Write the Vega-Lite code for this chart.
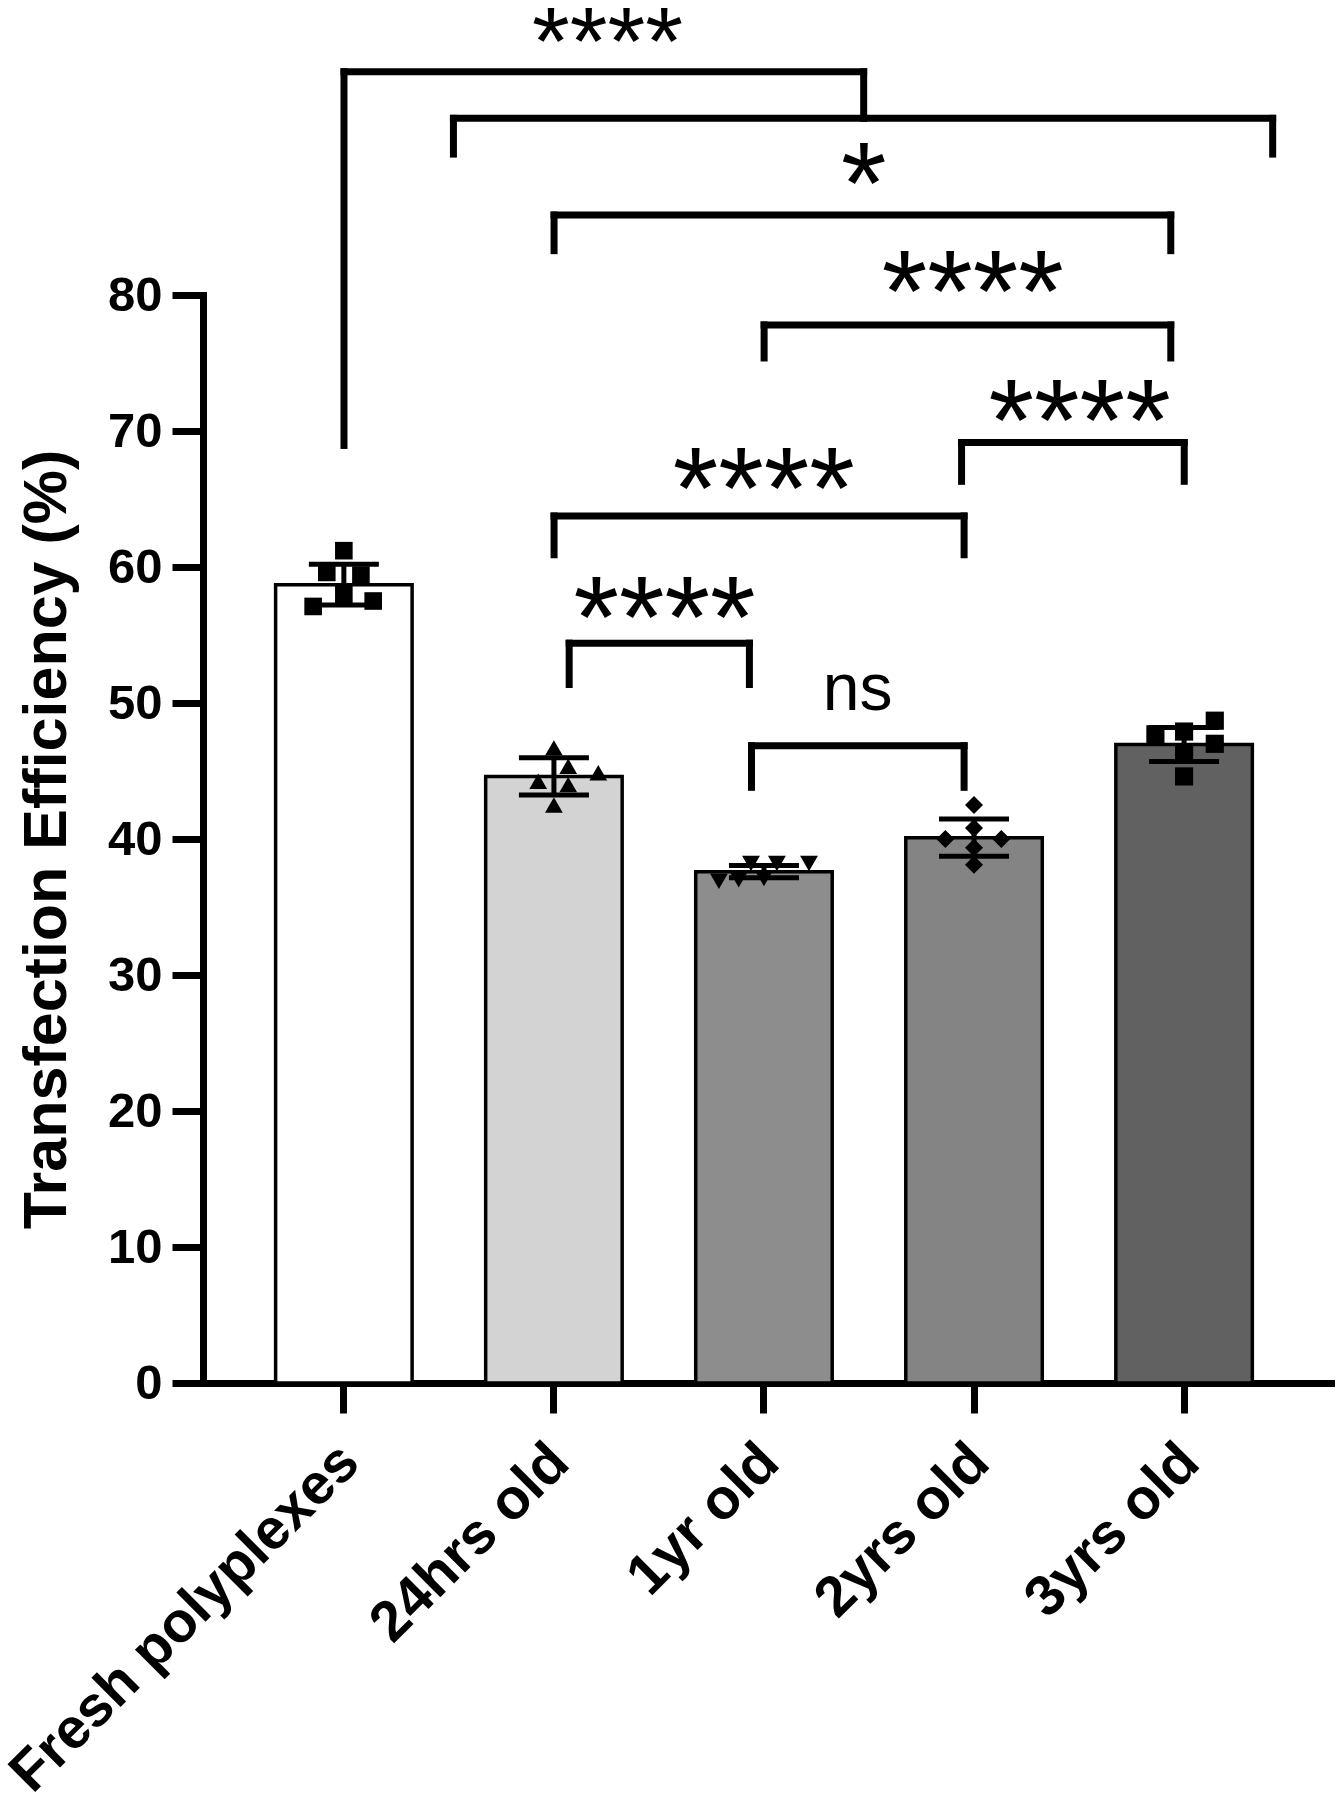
{
  "$schema": "https://vega.github.io/schema/vega-lite/v6.json",
  "autosize": {"type": "none"},
  "width": 1128,
  "height": 1088,
  "padding": {"left": 203, "top": 295, "right": 10, "bottom": 417},
  "background": "white",
  "config": {"view": {"stroke": null}, "font": "Liberation Sans"},
  "datasets": {
    "bars": [
      {"group": "Fresh polyplexes", "mean": 58.7, "sd": 1.5},
      {"group": "24hrs old", "mean": 44.6, "sd": 1.37},
      {"group": "1yr old", "mean": 37.6, "sd": 0.45},
      {"group": "2yrs old", "mean": 40.1, "sd": 1.37},
      {"group": "3yrs old", "mean": 46.95, "sd": 1.25}
    ],
    "points": [
      {"group": "Fresh polyplexes", "value": 61.2, "jitter": 0},
      {"group": "Fresh polyplexes", "value": 59.6, "jitter": -0.25},
      {"group": "Fresh polyplexes", "value": 59.4, "jitter": 0.25},
      {"group": "Fresh polyplexes", "value": 58.0, "jitter": 0},
      {"group": "Fresh polyplexes", "value": 57.1, "jitter": -0.45},
      {"group": "Fresh polyplexes", "value": 57.5, "jitter": 0.43},
      {"group": "24hrs old", "value": 46.7, "jitter": 0},
      {"group": "24hrs old", "value": 45.35, "jitter": 0.21},
      {"group": "24hrs old", "value": 44.87, "jitter": 0.65},
      {"group": "24hrs old", "value": 44.25, "jitter": -0.23},
      {"group": "24hrs old", "value": 44.0, "jitter": 0.21},
      {"group": "24hrs old", "value": 42.5, "jitter": 0},
      {"group": "1yr old", "value": 36.9, "jitter": -0.66},
      {"group": "1yr old", "value": 38.2, "jitter": -0.19},
      {"group": "1yr old", "value": 38.2, "jitter": 0.19},
      {"group": "1yr old", "value": 38.2, "jitter": 0.66},
      {"group": "1yr old", "value": 37.1, "jitter": 0},
      {"group": "1yr old", "value": 37.0, "jitter": -0.37},
      {"group": "2yrs old", "value": 42.5, "jitter": 0},
      {"group": "2yrs old", "value": 40.8, "jitter": 0},
      {"group": "2yrs old", "value": 40.0, "jitter": -0.42},
      {"group": "2yrs old", "value": 40.0, "jitter": 0.4},
      {"group": "2yrs old", "value": 39.35, "jitter": 0},
      {"group": "2yrs old", "value": 38.1, "jitter": 0},
      {"group": "3yrs old", "value": 47.7, "jitter": -0.42},
      {"group": "3yrs old", "value": 47.9, "jitter": 0},
      {"group": "3yrs old", "value": 46.2, "jitter": 0},
      {"group": "3yrs old", "value": 44.6, "jitter": 0},
      {"group": "3yrs old", "value": 48.7, "jitter": 0.45},
      {"group": "3yrs old", "value": 47.0, "jitter": 0.45}
    ],
    "brackets": [
      {"a": 0, "b": 2.474, "top": 96.41, "aEnd": 68.94, "bEnd": 92.99},
      {"a": 0.521, "b": 4.421, "top": 92.99, "aEnd": 90.36, "bEnd": 90.36},
      {"a": 1.0, "b": 3.936, "top": 85.88, "aEnd": 83.26, "bEnd": 83.26},
      {"a": 2.0, "b": 3.936, "top": 77.8, "aEnd": 75.37, "bEnd": 75.37},
      {"a": 2.94, "b": 4.0, "top": 69.15, "aEnd": 66.3, "bEnd": 66.3},
      {"a": 1.0, "b": 2.952, "top": 63.75, "aEnd": 60.9, "bEnd": 60.9},
      {"a": 1.072, "b": 1.93, "top": 54.4, "aEnd": 51.36, "bEnd": 51.36},
      {"a": 1.94, "b": 2.952, "top": 46.86, "aEnd": 43.8, "bEnd": 43.8}
    ],
    "sig": [
      {"pos": 1.255, "value": 99.85, "label": "****", "level": "top"},
      {"pos": 2.474, "value": 89.63, "label": "*", "level": "inner"},
      {"pos": 2.993, "value": 81.7, "label": "****", "level": "inner"},
      {"pos": 3.502, "value": 72.2, "label": "****", "level": "inner"},
      {"pos": 1.998, "value": 67.2, "label": "****", "level": "inner"},
      {"pos": 1.526, "value": 57.7, "label": "****", "level": "inner"},
      {"pos": 2.445, "value": 50.75, "label": "ns", "level": "ns"}
    ]
  },
  "resolve": {"scale": {"x": "independent"}},
  "layer": [
    {
      "layer": [
        {
          "data": {"name": "bars"},
          "mark": {"type": "bar", "stroke": "black", "strokeWidth": 3.5, "width": 136.5},
          "encoding": {
            "x": {
              "field": "group", "type": "nominal",
              "sort": ["Fresh polyplexes", "24hrs old", "1yr old", "2yrs old", "3yrs old"],
              "scale": {"paddingInner": 0.35, "paddingOuter": 0.36, "align": 0.48},
              "axis": {
                "title": null, "domainWidth": 7, "domainColor": "black", "domainCap": "square",
                "tickWidth": 7, "tickSize": 30, "tickColor": "black",
                "labelAngle": -45, "labelAlign": "right", "labelBaseline": "middle",
                "labelFont": "Liberation Sans", "labelFontWeight": "bold", "labelFontSize": 57,
                "labelColor": "black", "labelPadding": 40, "labelOffset": 6,
                "labelLimit": 1000, "labelOverlap": false
              }
            },
            "y": {
              "field": "mean", "type": "quantitative",
              "title": "Transfection Efficiency (%)",
              "scale": {"domain": [0, 80], "nice": false},
              "axis": {
                "title": "Transfection Efficiency (%)",
                "values": [0, 10, 20, 30, 40, 50, 60, 70, 80],
                "grid": false, "domainWidth": 7, "domainColor": "black", "domainCap": "square",
                "tickWidth": 7, "tickSize": 31, "tickColor": "black",
                "labelFont": "Liberation Sans", "labelFontWeight": "bold", "labelFontSize": 49,
                "labelColor": "black", "labelPadding": 10,
                "titleFont": "Liberation Sans", "titleFontWeight": "bold", "titleFontSize": 61,
                "titleColor": "black", "titleAngle": 270, "titleBaseline": "alphabetic",
                "titleAlign": "center", "titleX": -138, "titleY": 544
              }
            },
            "fill": {
              "field": "group", "type": "nominal",
              "scale": {
                "domain": ["Fresh polyplexes", "24hrs old", "1yr old", "2yrs old", "3yrs old"],
                "range": ["#ffffff", "#d3d3d3", "#8d8d8d", "#848484", "#616161"]
              },
              "legend": null
            }
          }
        }
      ]
    },
    {
      "layer": [
        {
          "data": {"name": "points"},
          "mark": {"type": "point", "filled": true, "opacity": 1, "color": "black"},
          "encoding": {
            "x": {
              "field": "group", "type": "nominal",
              "sort": ["Fresh polyplexes", "24hrs old", "1yr old", "2yrs old", "3yrs old"],
              "scale": {"paddingInner": 0.35, "paddingOuter": 0.36, "align": 0.48},
              "axis": null
            },
            "xOffset": {"field": "jitter", "type": "quantitative", "scale": {"domain": [-1, 1], "range": [0, 136.5]}},
            "y": {"field": "value", "type": "quantitative", "title": "Transfection Efficiency (%)"},
            "shape": {
              "field": "group", "type": "nominal",
              "scale": {
                "domain": ["Fresh polyplexes", "24hrs old", "1yr old", "2yrs old", "3yrs old"],
                "range": ["square", "triangle-up", "triangle-down", "diamond", "square"]
              },
              "legend": null
            },
            "size": {
              "field": "group", "type": "ordinal",
              "scale": {
                "domain": ["Fresh polyplexes", "24hrs old", "1yr old", "2yrs old", "3yrs old"],
                "range": [310, 330, 210, 340, 540]
              },
              "legend": null
            }
          }
        }
      ]
    },
    {
      "layer": [
        {
          "data": {"name": "bars"},
          "mark": {"type": "errorbar", "color": "black", "ticks": {"size": 70, "thickness": 5, "color": "black", "opacity": 1}, "rule": {"strokeWidth": 5, "color": "black", "opacity": 1}},
          "encoding": {
            "x": {
              "field": "group", "type": "nominal",
              "sort": ["Fresh polyplexes", "24hrs old", "1yr old", "2yrs old", "3yrs old"],
              "scale": {"paddingInner": 0.35, "paddingOuter": 0.36, "align": 0.48},
              "axis": null
            },
            "y": {"field": "mean", "type": "quantitative", "title": "Transfection Efficiency (%)"},
            "yError": {"field": "sd"}
          }
        }
      ]
    },
    {
      "layer": [
        {
          "data": {"name": "brackets"},
          "mark": {"type": "rule", "strokeWidth": 7, "strokeCap": "square", "color": "black"},
          "encoding": {
            "x": {"field": "a", "type": "quantitative", "scale": {"domain": [-0.6712, 4.6987], "nice": false, "zero": false}, "axis": null},
            "x2": {"field": "b"},
            "y": {"field": "top", "type": "quantitative", "title": "Transfection Efficiency (%)"}
          }
        },
        {
          "data": {"name": "brackets"},
          "mark": {"type": "rule", "strokeWidth": 7, "strokeCap": "square", "color": "black"},
          "encoding": {
            "x": {"field": "a", "type": "quantitative"},
            "y": {"field": "top", "type": "quantitative", "title": "Transfection Efficiency (%)"},
            "y2": {"field": "aEnd"}
          }
        },
        {
          "data": {"name": "brackets"},
          "mark": {"type": "rule", "strokeWidth": 7, "strokeCap": "square", "color": "black"},
          "encoding": {
            "x": {"field": "b", "type": "quantitative"},
            "y": {"field": "top", "type": "quantitative", "title": "Transfection Efficiency (%)"},
            "y2": {"field": "bEnd"}
          }
        },
        {
          "data": {"name": "sig"},
          "transform": [{"filter": "datum.level == 'inner'"}],
          "mark": {"type": "text", "font": "Liberation Sans", "fontSize": 117, "baseline": "alphabetic", "align": "center", "dy": 60, "color": "black"},
          "encoding": {
            "x": {"field": "pos", "type": "quantitative"},
            "y": {"field": "value", "type": "quantitative", "title": "Transfection Efficiency (%)"},
            "text": {"field": "label"}
          }
        },
        {
          "data": {"name": "sig"},
          "transform": [{"filter": "datum.level == 'top'"}],
          "mark": {"type": "text", "font": "Liberation Sans", "fontSize": 97, "baseline": "alphabetic", "align": "center", "dy": 50, "color": "black"},
          "encoding": {
            "x": {"field": "pos", "type": "quantitative"},
            "y": {"field": "value", "type": "quantitative", "title": "Transfection Efficiency (%)"},
            "text": {"field": "label"}
          }
        },
        {
          "data": {"name": "sig"},
          "transform": [{"filter": "datum.level == 'ns'"}],
          "mark": {"type": "text", "font": "'Liberation Sans Narrow', 'Arial Narrow', 'Liberation Sans'", "fontSize": 66, "baseline": "alphabetic", "align": "center", "dy": 17, "color": "black"},
          "encoding": {
            "x": {"field": "pos", "type": "quantitative"},
            "y": {"field": "value", "type": "quantitative", "title": "Transfection Efficiency (%)"},
            "text": {"field": "label"}
          }
        }
      ]
    }
  ]
}
